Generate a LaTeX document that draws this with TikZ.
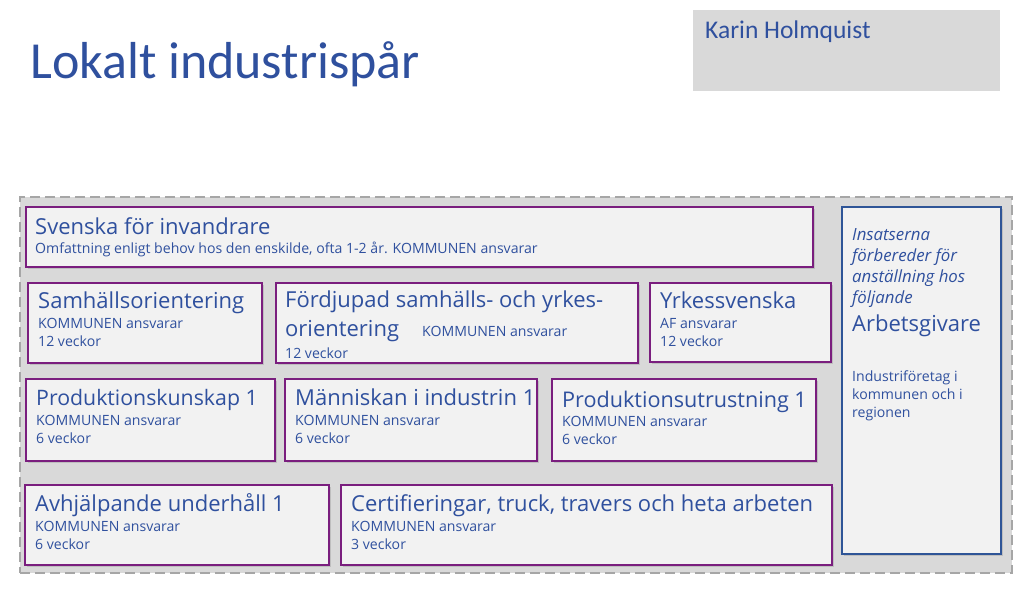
\documentclass[tikz,border=0pt]{standalone}
\usepackage{fontspec}
\setmainfont{Open Sans}
\newfontfamily\titlefont{Carlito}
\usetikzlibrary{shadows}
\definecolor{txtblue}{HTML}{2F509E}
\definecolor{boxpurple}{HTML}{7A1E7E}
\definecolor{boxfill}{HTML}{F2F2F2}
\definecolor{bgfill}{HTML}{D9D9D9}
\definecolor{rightblue}{HTML}{2F5597}
\definecolor{dashgray}{HTML}{A6A6A6}
\tikzset{
  box/.style={draw=boxpurple, line width=1.6pt, fill=boxfill, anchor=north west, inner sep=0pt,
    drop shadow={opacity=0.3, shadow xshift=2pt, shadow yshift=-2pt}},
  head/.style={anchor=base west, inner sep=0pt, text=txtblue, font=\fontsize{22}{26}\selectfont},
  sub/.style={anchor=base west, inner sep=0pt, text=txtblue, font=\fontsize{14.1}{16}\selectfont},
  ital/.style={anchor=base west, inner sep=0pt, text=txtblue, font=\fontsize{16.8}{19}\selectfont\itshape},
}
\begin{document}
\begin{tikzpicture}[x=1pt,y=-1pt]
\useasboundingbox[fill=white] (0,0) rectangle (1024,595);
% title
\node[anchor=base west, inner sep=0pt, text=txtblue, font=\titlefont\fontsize{52}{60}\selectfont] (title) at (30,78) {Lokalt industrispår};
\node[anchor=north west, fill=bgfill, minimum width=307pt, minimum height=81pt, inner sep=0pt] (karinbox) at (693,10) {};
\node[anchor=base west, inner sep=0pt, text=txtblue, font=\titlefont\fontsize{25.5}{30}\selectfont] (karin) at (705,38) {Karin Holmquist};
% outer dashed frame
\node[anchor=north west, draw=dashgray, fill=bgfill, line width=1.8pt, dash pattern=on 10pt off 5pt, minimum width=992pt, minimum height=376pt, inner sep=0pt] (frame) at (19,196) {};
% row 1
\node[box, minimum width=787pt, minimum height=60pt] (sfi) at (25,206) {};
\node[head] (sfih) at (35,234) {Svenska för invandrare};
\node[sub] (sfis) at (35,253) {Omfattning enligt behov hos den enskilde, ofta 1-2 år. KOMMUNEN ansvarar};
% row 2
\node[box, minimum width=234pt, minimum height=80pt] (samh) at (27,282) {};
\node[head] (samhh) at (38,308) {Samhällsorientering};
\node[sub] (samhs) at (38,328) {KOMMUNEN ansvarar};
\node[sub] (samhv) at (38,346) {12 veckor};
\node[box, minimum width=362pt, minimum height=80pt] (ford) at (275,282) {};
\node[head] (fordh) at (285,307) {Fördjupad samhälls- och yrkes-};
\node[head] (fordh2) at (285,336) {orientering};
\node[sub] (fords) at (422,336) {KOMMUNEN ansvarar};
\node[sub] (fordv) at (285,358) {12 veckor};
\node[box, minimum width=181pt, minimum height=79pt] (yrk) at (649,282) {};
\node[head] (yrkh) at (660,308) {Yrkessvenska};
\node[sub] (yrks) at (660,328) {AF ansvarar};
\node[sub] (yrkv) at (660,346) {12 veckor};
% row 3
\node[box, minimum width=249pt, minimum height=82pt] (prod) at (25,378) {};
\node[head, font=\fontsize{21.3}{26}\selectfont] (prodh) at (36,405) {Produktionskunskap 1};
\node[sub] (prods) at (36,425) {KOMMUNEN ansvarar};
\node[sub] (prodv) at (36,443) {6 veckor};
\node[box, minimum width=252pt, minimum height=82pt] (mann) at (284,378) {};
\node[head] (mannh) at (295,405) {Människan i industrin 1};
\node[sub] (manns) at (295,425) {KOMMUNEN ansvarar};
\node[sub] (mannv) at (295,443) {6 veckor};
\node[box, minimum width=264pt, minimum height=82pt] (utr) at (551,378) {};
\node[head, font=\fontsize{21.6}{26}\selectfont] (utrh) at (562,407) {Produktionsutrustning 1};
\node[sub] (utrs) at (562,426) {KOMMUNEN ansvarar};
\node[sub] (utrv) at (562,444) {6 veckor};
% row 4
\node[box, minimum width=304pt, minimum height=80pt] (avh) at (24,484) {};
\node[head] (avhh) at (35,511) {Avhjälpande underhåll 1};
\node[sub] (avhs) at (35,531) {KOMMUNEN ansvarar};
\node[sub] (avhv) at (35,549) {6 veckor};
\node[box, minimum width=491pt, minimum height=80pt] (cert) at (340,484) {};
\node[head] (certh) at (351,511) {Certifieringar, truck, travers och heta arbeten};
\node[sub] (certs) at (351,531) {KOMMUNEN ansvarar};
\node[sub] (certv) at (351,549) {3 veckor};
% right box
\node[anchor=north west, draw=rightblue, line width=1.6pt, fill=boxfill, minimum width=159pt, minimum height=347pt, inner sep=0pt,
  drop shadow={opacity=0.3, shadow xshift=2pt, shadow yshift=-2pt}] (emp) at (841,206) {};
\node[ital] (emp1) at (852,240) {Insatserna};
\node[ital] (emp2) at (852,261) {förbereder för};
\node[ital] (emp3) at (852,282) {anställning hos};
\node[ital] (emp4) at (852,303) {följande};
\node[head] (emp5) at (852,331) {Arbetsgivare};
\node[sub] (emp6) at (852,381) {Industriföretag i};
\node[sub] (emp7) at (852,399) {kommunen och i};
\node[sub] (emp8) at (852,417) {regionen};
\end{tikzpicture}
\end{document}
